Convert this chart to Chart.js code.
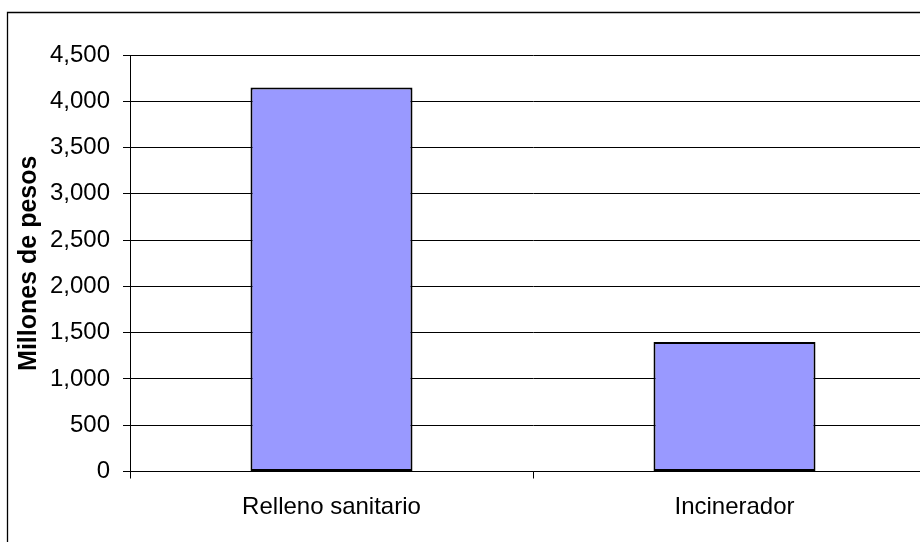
<!DOCTYPE html>
<html>
<head>
<meta charset="utf-8">
<script src="https://cdn.jsdelivr.net/npm/chart.js@4.4.0/dist/chart.umd.min.js"></script>
<style>
  html, body { margin: 0; padding: 0; background: #fff; overflow: hidden; }
  #wrap { width: 940px; height: 542px; position: relative; }
</style>
</head>
<body>
<div id="wrap"><canvas id="c"></canvas></div>
<script>
// Costs per disposal option, in millions of pesos
const categories = ['Relleno sanitario', 'Incinerador'];
const costs = [4150, 1400];
const yTicks = [0, 500, 1000, 1500, 2000, 2500, 3000, 3500, 4000, 4500];
const yTitle = 'Millones de pesos';

const FONT = "'Liberation Sans', Arial, sans-serif";

// Outer chart frame (top and left edges visible)
const framePlugin = {
  id: 'frame',
  beforeDraw(chart) {
    const ctx = chart.ctx;
    ctx.save();
    ctx.fillStyle = '#fff';
    ctx.fillRect(0, 0, chart.width, chart.height);
    ctx.strokeStyle = '#000';
    ctx.lineWidth = 1.3;
    ctx.beginPath();
    ctx.moveTo(7.5, chart.height + 2);
    ctx.lineTo(7.5, 12.5);
    ctx.lineTo(chart.width + 2, 12.5);
    ctx.stroke();
    ctx.restore();
  }
};

new Chart(document.getElementById('c'), {
  type: 'bar',
  data: {
    labels: categories,
    datasets: [{
      data: costs,
      backgroundColor: '#9999FF',
      borderColor: '#000',
      borderWidth: 2,
      borderSkipped: false,
      categoryPercentage: 1,
      barPercentage: 0.402
    }]
  },
  options: {
    responsive: true,
    maintainAspectRatio: false,
    animation: false,
    devicePixelRatio: 1,
    layout: { padding: { top: 55, right: 4, bottom: 0, left: 0 } },
    plugins: { legend: { display: false }, tooltip: { enabled: false }, title: { display: false } },
    scales: {
      x: {
        offset: true,
        grid: {
          offset: true,
          drawOnChartArea: false,
          drawTicks: true,
          tickLength: 7,
          color: '#000',
          lineWidth: 1
        },
        border: { display: true, color: '#000', width: 1 },
        ticks: { color: '#000', font: { family: FONT, size: 24 }, padding: 14 },
        afterFit(scale) { scale.height = 70.5; }
      },
      y: {
        min: 0,
        max: 4500,
        afterBuildTicks(scale) { scale.ticks = yTicks.map(v => ({ value: v })); },
        grid: {
          color: '#000',
          lineWidth: 1,
          drawTicks: true,
          tickLength: 7
        },
        border: { display: true, color: '#000', width: 1 },
        ticks: {
          color: '#000',
          font: { family: FONT, size: 24 },
          padding: 13,
          callback: v => v.toLocaleString('en-US')
        },
        title: {
          display: true,
          text: yTitle,
          color: '#000',
          font: { family: FONT, size: 25, weight: 'bold' },
          padding: { top: 14, bottom: 0 }
        },
        afterFit(scale) { scale.width = 130; }
      }
    }
  },
  plugins: [framePlugin]
});
</script>
</body>
</html>
